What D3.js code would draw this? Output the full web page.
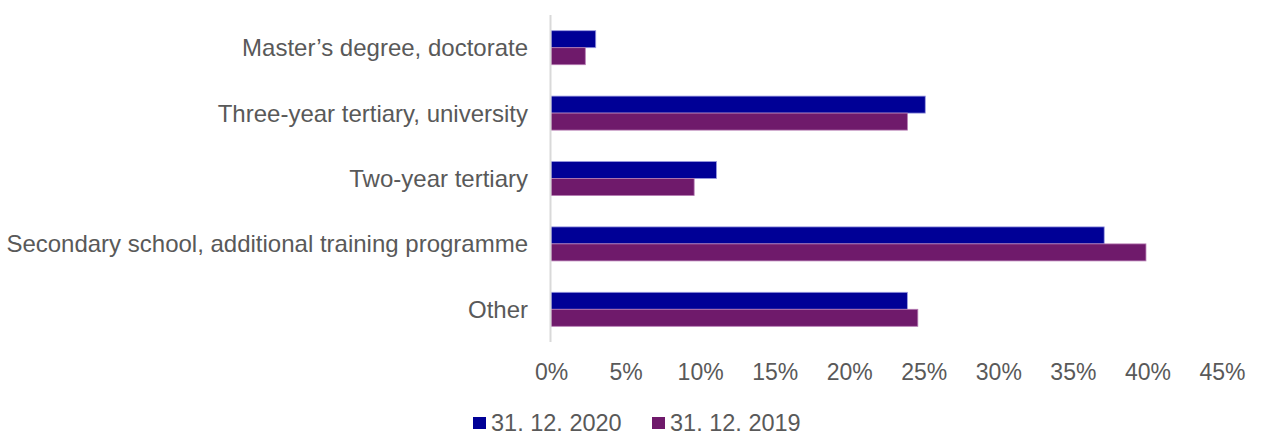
<!DOCTYPE html>
<html>
<head>
<meta charset="utf-8">
<script src="https://cdn.jsdelivr.net/npm/d3@7"></script>
<style>
  html, body { margin: 0; padding: 0; background: #ffffff; }
  svg { display: block; }
  text { font-family: "Liberation Sans", Arial, sans-serif; fill: #595959; }
</style>
</head>
<body>
<svg id="chart" width="1261" height="432"></svg>
<script>
// Education level categories (top to bottom)
const categories = [
  "Master\u2019s degree, doctorate",
  "Three-year tertiary, university",
  "Two-year tertiary",
  "Secondary school, additional training programme",
  "Other"
];
// Share of each category, in percent
const values2020 = [3.0, 25.1, 11.1, 37.1, 23.9];
const values2019 = [2.3, 23.9, 9.6, 39.9, 24.6];
const seriesNames = ["31. 12. 2020", "31. 12. 2019"];
const seriesColors = ["#000096", "#6f1a6b"];
const tickValues = [0, 5, 10, 15, 20, 25, 30, 35, 40, 45];

const svg = d3.select("#chart");
const margin = { left: 551, right: 39, top: 15, bottom: 90 };
const width = 1261 - margin.left - margin.right;
const height = 432 - margin.top - margin.bottom;

const g = svg.append("g").attr("transform", `translate(${margin.left},${margin.top})`);

const x = d3.scaleLinear().domain([0, 45]).range([0, width]);
const y = d3.scaleBand().domain(categories).range([0, height]).paddingInner(0.48).paddingOuter(0.24);
const ySub = d3.scaleBand().domain([0, 1]).range([0, y.bandwidth()]);

const rows = categories.map((c, i) => ({ cat: c, vals: [values2020[i], values2019[i]] }));

// Bars
const groups = g.selectAll("g.row").data(rows).join("g")
  .attr("class", "row")
  .attr("transform", d => `translate(0,${y(d.cat)})`);

groups.selectAll("rect").data(d => d.vals.map((v, k) => ({ v, k }))).join("rect")
  .attr("x", 0)
  .attr("y", d => ySub(d.k))
  .attr("width", d => x(d.v))
  .attr("height", ySub.bandwidth())
  .attr("fill", d => seriesColors[d.k])
  .attr("stroke", d => d.k === 0 ? "#9a9ae0" : "#b57ab2")
  .attr("stroke-width", 0.8);

// Vertical category axis line
g.append("line")
  .attr("x1", -0.5).attr("x2", -0.5)
  .attr("y1", 0).attr("y2", height)
  .attr("stroke", "#d9d9d9").attr("stroke-width", 2);

// Category labels
g.selectAll("text.cat").data(categories).join("text")
  .attr("class", "cat")
  .attr("x", -23)
  .attr("y", d => y(d) + y.bandwidth() / 2)
  .attr("dy", "0.35em")
  .attr("text-anchor", "end")
  .style("font-size", "24px")
  .text(d => d);

// Value axis
const xAxis = d3.axisBottom(x).tickValues(tickValues).tickSize(0).tickPadding(0)
  .tickFormat(d => d + "%");
const ax = g.append("g").attr("transform", `translate(0,${height + 38})`).call(xAxis);
ax.select(".domain").remove();
ax.selectAll("text").style("font-size", "23px").attr("fill", "#595959").attr("dy", "0");

// Legend
const legend = svg.append("g").attr("transform", "translate(473,423)");
const legendItems = legend.selectAll("g").data(seriesNames).join("g")
  .attr("transform", (d, i) => `translate(${i * 179},0)`);
legendItems.append("rect")
  .attr("x", 0).attr("y", -6)
  .attr("width", 13).attr("height", 12)
  .attr("fill", (d, i) => seriesColors[i]);
legendItems.append("text")
  .attr("x", 18).attr("y", 7.5)
  .style("font-size", "23.5px")
  .text(d => d);
</script>
</body>
</html>
